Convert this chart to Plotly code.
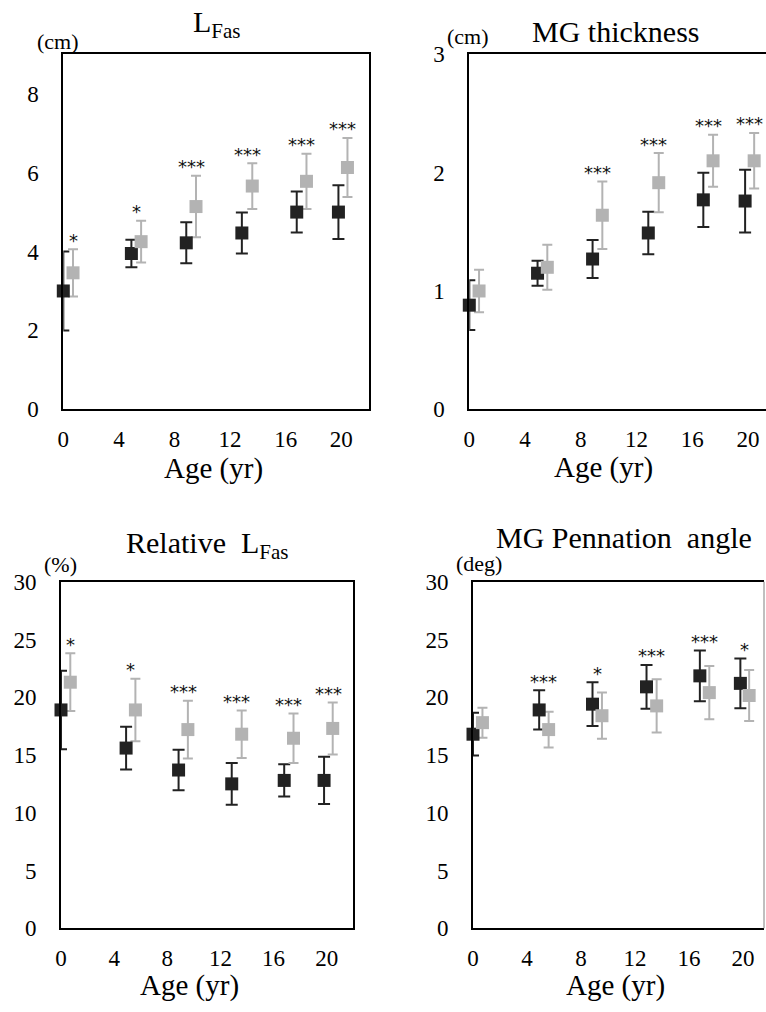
import plotly.graph_objects as go

W, H = 766, 1012
FONT = "Liberation Serif, Times New Roman, serif"
STAR_FONT = "DejaVu Sans, sans-serif"

# ---------------- data ----------------
age_ticks = [0, 4, 8, 12, 16, 20]
black_age = [0, 4.9, 8.85, 12.85, 16.8, 19.8]
gray_age = [0.7, 5.6, 9.55, 13.6, 17.5, 20.45]

lfas_black = [3.0, 3.95, 4.22, 4.47, 5.0, 5.0]
lfas_black_sd = [1.0, 0.35, 0.52, 0.52, 0.52, 0.68]
lfas_gray = [3.46, 4.25, 5.14, 5.66, 5.78, 6.13]
lfas_gray_sd = [0.6, 0.53, 0.78, 0.58, 0.7, 0.75]
lfas_sig = ["*", "*", "***", "***", "***", "***"]

thick_black = [0.88, 1.15, 1.27, 1.49, 1.77, 1.76]
thick_black_sd = [0.21, 0.105, 0.16, 0.18, 0.23, 0.265]
thick_gray = [1.0, 1.2, 1.64, 1.915, 2.1, 2.1]
thick_gray_sd = [0.18, 0.19, 0.285, 0.25, 0.22, 0.235]
thick_sig = ["", "", "***", "***", "***", "***"]

rel_black = [18.9, 15.6, 13.7, 12.5, 12.8, 12.8]
rel_black_sd = [3.4, 1.85, 1.75, 1.8, 1.4, 2.05]
rel_gray = [21.3, 18.9, 17.2, 16.8, 16.45, 17.3]
rel_gray_sd = [2.5, 2.7, 2.5, 2.05, 2.15, 2.25]
rel_sig = ["*", "*", "***", "***", "***", "***"]

pen_black = [16.8, 18.9, 19.4, 20.9, 21.85, 21.2]
pen_black_sd = [1.85, 1.7, 1.9, 1.9, 2.2, 2.15]
pen_gray = [17.8, 17.2, 18.4, 19.25, 20.4, 20.15]
pen_gray_sd = [1.3, 1.55, 2.0, 2.3, 2.3, 2.2]
pen_sig = ["", "***", "*", "***", "***", "*"]

BLACK = "#222222"
GRAY = "#b3b3b3"


def px_x(p):
    return p / W


def px_y(p):
    return 1 - p / H


panels = [
    dict(b=lfas_black, bsd=lfas_black_sd, g=lfas_gray, gsd=lfas_gray_sd, sig=lfas_sig,
         yrange=[0, 9], yticks=[0, 2, 4, 6, 8], xrange=[0, 22],
         box=(63.3, 369, 54.3, 409.3), ymirror=True,
         title="L<sub>Fas</sub>", tpos=(216.7, 24), unit="(cm)", upos=(58.3, 41.5),
         xt=(213, 468)),
    dict(b=thick_black, bsd=thick_black_sd, g=thick_gray, gsd=thick_gray_sd, sig=thick_sig,
         yrange=[0, 3], yticks=[0, 1, 2, 3], xrange=[0, 21.3],
         box=(469.3, 766, 54.3, 409.3), ymirror=False,
         title="MG thickness", tpos=(615.5, 31), unit="(cm)", upos=(468, 36.5),
         xt=(603, 467)),
    dict(b=rel_black, bsd=rel_black_sd, g=rel_gray, gsd=rel_gray_sd, sig=rel_sig,
         yrange=[0, 30], yticks=[0, 5, 10, 15, 20, 25, 30], xrange=[0, 22],
         box=(61, 353.3, 581.7, 928.3), ymirror=True,
         title="Relative  L<sub>Fas</sub>", tpos=(206.7, 545), unit="(%)", upos=(60.5, 564),
         xt=(189, 985)),
    dict(b=pen_black, bsd=pen_black_sd, g=pen_gray, gsd=pen_gray_sd, sig=pen_sig,
         yrange=[0, 30], yticks=[0, 5, 10, 15, 20, 25, 30], xrange=[0, 21.55],
         box=(473, 764, 581.7, 928.3), ymirror=False,
         title="MG Pennation  angle", tpos=(623.5, 537), unit="(deg)", upos=(479, 563),
         xt=(615.5, 985)),
]

fig = go.Figure()
layout = dict(
    template="none",
    width=W, height=H, margin=dict(l=0, r=0, t=0, b=0, pad=0),
    paper_bgcolor="white", plot_bgcolor="white", showlegend=False,
    font=dict(family=FONT, color="black"),
)
annotations = []
shapes = []
n = len(panels)

for i, p in enumerate(panels, start=1):
    xs = "" if i == 1 else str(i)
    ov = str(i + n)  # overlay axes for the (unclipped) markers
    x0, x1, y0, y1 = p["box"]
    xdom = [px_x(x0), px_x(x1)]
    ydom = [px_y(y1), px_y(y0)]
    layout["xaxis" + xs] = dict(
        domain=xdom, range=p["xrange"], anchor="y" + xs,
        showline=True, linecolor="black", linewidth=2, mirror=True,
        ticks="", tickvals=age_ticks, tickfont=dict(size=23, family=FONT, color="black"),
        ticklabelstandoff=8, showgrid=False, zeroline=False, automargin=False,
    )
    layout["yaxis" + xs] = dict(
        domain=ydom, range=p["yrange"], anchor="x" + xs,
        showline=True, linecolor="black", linewidth=2, mirror=p["ymirror"],
        ticks="", tickvals=p["yticks"], tickfont=dict(size=23, family=FONT, color="black"),
        ticklabelstandoff=18, showgrid=False, zeroline=False, automargin=False,
    )
    layout["xaxis" + ov] = dict(domain=xdom, range=p["xrange"], anchor="y" + ov,
                                overlaying="x" + xs, visible=False, automargin=False)
    layout["yaxis" + ov] = dict(domain=ydom, range=p["yrange"], anchor="x" + ov,
                                overlaying="y" + xs, visible=False, automargin=False)

    # error bars (clipped to the plot area)
    for xv, yv, sd, col, w in ((black_age, p["b"], p["bsd"], BLACK, 6),
                               (gray_age, p["g"], p["gsd"], GRAY, 5)):
        fig.add_trace(go.Scatter(
            x=xv, y=yv, mode="markers", xaxis="x" + xs, yaxis="y" + xs,
            marker=dict(size=0, opacity=0),
            error_y=dict(type="data", array=sd, color=col, thickness=2, width=w),
            cliponaxis=True, hoverinfo="skip",
        ))
    # square markers (not clipped)
    for xv, yv, col in ((black_age, p["b"], BLACK), (gray_age, p["g"], GRAY)):
        fig.add_trace(go.Scatter(
            x=xv, y=yv, mode="markers", xaxis="x" + ov, yaxis="y" + ov,
            marker=dict(symbol="square", size=13, color=col, line=dict(width=0)),
            cliponaxis=False,
        ))
    # significance marks
    for k, s in enumerate(p["sig"]):
        if not s:
            continue
        top = max(p["b"][k] + p["bsd"][k], p["g"][k] + p["gsd"][k])
        sx = gray_age[k] if black_age[k] == 0 else (black_age[k] + gray_age[k]) / 2
        annotations.append(dict(
            x=sx, y=top, xref="x" + xs, yref="y" + xs, text=s, showarrow=False,
            yanchor="middle", xanchor="center", yshift=9,
            font=dict(size=18, family=STAR_FONT, color="#111111"),
        ))
    # panel title
    annotations.append(dict(
        x=px_x(p["tpos"][0]), y=px_y(p["tpos"][1]), xref="paper", yref="paper",
        text=p["title"], showarrow=False, xanchor="center", yanchor="middle",
        font=dict(size=30, family=FONT, color="black"),
    ))
    # unit label
    annotations.append(dict(
        x=px_x(p["upos"][0]), y=px_y(p["upos"][1]), xref="paper", yref="paper",
        text=p["unit"], showarrow=False, xanchor="center", yanchor="middle",
        font=dict(size=22, family=FONT, color="black"),
    ))
    # x axis title
    annotations.append(dict(
        x=px_x(p["xt"][0]), y=px_y(p["xt"][1]), xref="paper", yref="paper",
        text="Age (yr)", showarrow=False, xanchor="center", yanchor="middle",
        font=dict(size=29, family=FONT, color="black"),
    ))

# thin right border of the lower-right panel
shapes.append(dict(type="line", xref="paper", yref="paper",
                   x0=px_x(764), x1=px_x(764), y0=px_y(928.3), y1=px_y(581.7),
                   line=dict(color="#808080", width=1)))

layout["annotations"] = annotations
layout["shapes"] = shapes
fig.update_layout(**layout)
fig.write_html("out.html")
